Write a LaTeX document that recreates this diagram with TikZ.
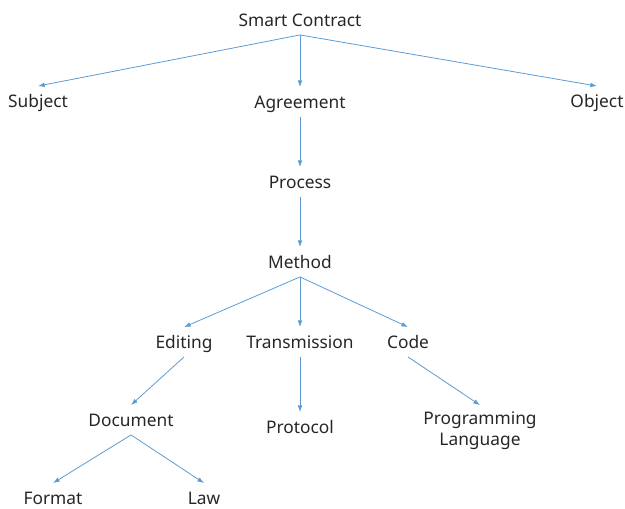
\documentclass[tikz,border=0pt]{standalone}
\usepackage{fontspec}
\setmainfont{Noto Sans}
\usepackage{tikz}
\usetikzlibrary{arrows.meta}

\definecolor{linkblue}{RGB}{91,155,213}
\definecolor{labelgray}{RGB}{38,38,38}

\tikzset{
    term/.style={inner sep=4.5pt, text=labelgray, font=\fontsize{13}{15.75}\selectfont},
    word/.style={term, text height=11pt, text depth=2pt},
    link/.style={draw=linkblue, line width=0.6pt, -{Latex[length=5pt, width=3.5pt]}}
}

\begin{document}
\begin{tikzpicture}[x=0.75pt, y=-0.75pt]
    \useasboundingbox (0, 0) rectangle (625, 508);

    \node[word] (smart) at (300, 20) {Smart Contract};
    \node[word] (subject) at (38, 101) {Subject};
    \node[word] (agree) at (300, 102) {Agreement};
    \node[word] (object) at (597, 101) {Object};
    \node[word] (process) at (300, 182) {Process};
    \node[word] (method) at (300, 262) {Method};
    \node[word] (editing) at (184, 342) {Editing};
    \node[word] (trans) at (300, 342) {Transmission};
    \node[word] (code) at (408, 342) {Code};
    \node[word] (doc) at (131, 420) {Document};
    \node[word] (protocol) at (300, 427) {Protocol};
    \node[term, align=center, inner sep=5pt] (prog) at (480, 431) {Programming\\Language};
    \node[word] (format) at (53, 498) {Format};
    \node[word] (law) at (204, 498) {Law};

    \draw [link] (smart.south) -- (subject.north);
    \draw [link] (smart.south) -- (agree.north);
    \draw [link] (smart.south) -- (object.north);
    \draw [link] (agree.south) -- (process.north);
    \draw [link] (process.south) -- (method.north);
    \draw [link] (method.south) -- (editing.north);
    \draw [link] (method.south) -- (trans.north);
    \draw [link] (method.south) -- (code.north);
    \draw [link] (editing.south) -- (doc.north);
    \draw [link] (trans.south) -- (protocol.north);
    \draw [link] (code.south) -- (prog.north);
    \draw [link] (doc.south) -- (format.north);
    \draw [link] (doc.south) -- (law.north);
\end{tikzpicture}
\end{document}
